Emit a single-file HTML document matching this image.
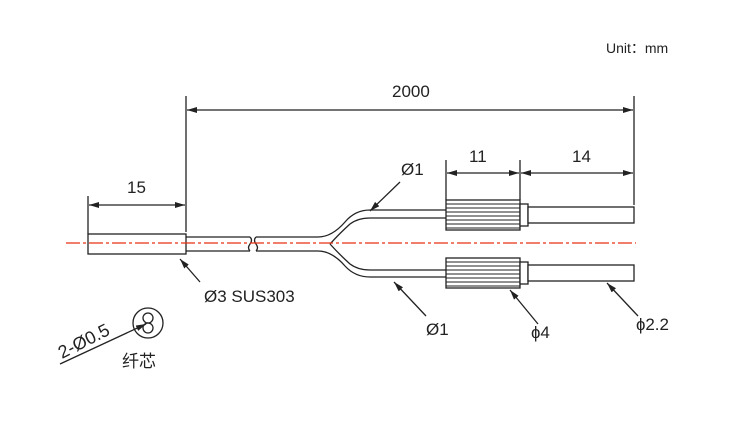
<!DOCTYPE html>
<html><head><style>
html,body{margin:0;padding:0;background:#fff;}
svg{display:block;}
text{font-family:"Liberation Sans","Noto Sans CJK SC",sans-serif;fill:#222;}
</style></head><body>
<svg width="740" height="442" viewBox="0 0 740 442" xmlns="http://www.w3.org/2000/svg">
<defs>
<marker id="a" viewBox="0 0 10 6" refX="10" refY="3" markerWidth="10" markerHeight="6" orient="auto-start-reverse" markerUnits="userSpaceOnUse"><path d="M0,0 L10,3 L0,6 z" fill="#222"/></marker>
</defs>
<g stroke="#222" stroke-width="1.3" fill="none">
<line x1="186" y1="96" x2="186" y2="232"/>
<line x1="634" y1="96" x2="634" y2="205"/>
<line x1="88" y1="196" x2="88" y2="234"/>
<line x1="446" y1="160" x2="446" y2="200"/>
<line x1="520" y1="160" x2="520" y2="200"/>
<line x1="187" y1="110" x2="633" y2="110" marker-start="url(#a)" marker-end="url(#a)"/>
<line x1="89" y1="205" x2="185" y2="205" marker-start="url(#a)" marker-end="url(#a)"/>
<line x1="447" y1="173" x2="519" y2="173" marker-start="url(#a)" marker-end="url(#a)"/>
<line x1="521" y1="173" x2="633" y2="173" marker-start="url(#a)" marker-end="url(#a)"/>
<rect x="88" y="234" width="98" height="20" fill="#fff"/>
<path d="M186,237 H250 M256,237 H318 Q332,237 345,222 Q355,210 370,210 H446"/>
<path d="M186,251 H250 M256,251 H318 Q332,251 345,266 Q355,277 370,277 H446"/>
<path d="M330,244 Q340,233 350,224 Q358,218 370,218 H446"/>
<path d="M330,244 Q340,255 350,264 Q358,270 370,270 H446"/>
<path d="M250,237 q3,3 0,7 q-3,4 0,7 M256,237 q-3,3 0,7 q3,4 0,7"/>
<rect x="446" y="200" width="74" height="30" fill="#fff"/>
<path d="M446,204H520M446,208H520M446,212H520M446,216H520M446,220H520M446,224H520M446,228H520" stroke-width="0.9"/>
<rect x="520" y="204" width="8" height="22" fill="#fff"/>
<rect x="528" y="207" width="106" height="16" fill="#fff"/>
<rect x="446" y="258" width="74" height="30" fill="#fff"/>
<path d="M446,262H520M446,266H520M446,270H520M446,274H520M446,278H520M446,282H520M446,286H520" stroke-width="0.9"/>
<rect x="520" y="262" width="8" height="22" fill="#fff"/>
<rect x="528" y="265" width="106" height="16" fill="#fff"/>
<line x1="400" y1="182" x2="370" y2="211" marker-end="url(#a)"/>
<line x1="426" y1="316" x2="394" y2="282" marker-end="url(#a)"/>
<line x1="538" y1="324" x2="510" y2="290" marker-end="url(#a)"/>
<line x1="638" y1="316" x2="607" y2="283" marker-end="url(#a)"/>
<line x1="200" y1="282" x2="180" y2="259" marker-end="url(#a)"/>
<line x1="60" y1="364" x2="146" y2="324" marker-end="url(#a)"/>
<circle cx="148" cy="323" r="15"/>
<circle cx="148" cy="318" r="5"/>
<circle cx="148" cy="328" r="5"/>
</g>
<line x1="66" y1="243" x2="636" y2="243" stroke="#e83010" stroke-width="1.2" stroke-dasharray="14,3,3,3"/>
<g font-size="17">
<text x="606" y="53" font-size="14">Unit：mm</text>
<text x="392" y="97">2000</text>
<text x="127" y="193">15</text>
<text x="469" y="162">11</text>
<text x="572" y="162">14</text>
<text x="401" y="175">Ø1</text>
<text x="204" y="302">Ø3 SUS303</text>
<text x="426" y="335">Ø1</text>
<text x="531" y="338">ɸ4</text>
<text x="636" y="330">ɸ2.2</text>
<text x="122" y="367" font-size="17">纤芯</text>
<text x="0" y="0" font-size="18" transform="translate(62,359) rotate(-27)">2-Ø0.5</text>
</g>
</svg>
</body></html>
